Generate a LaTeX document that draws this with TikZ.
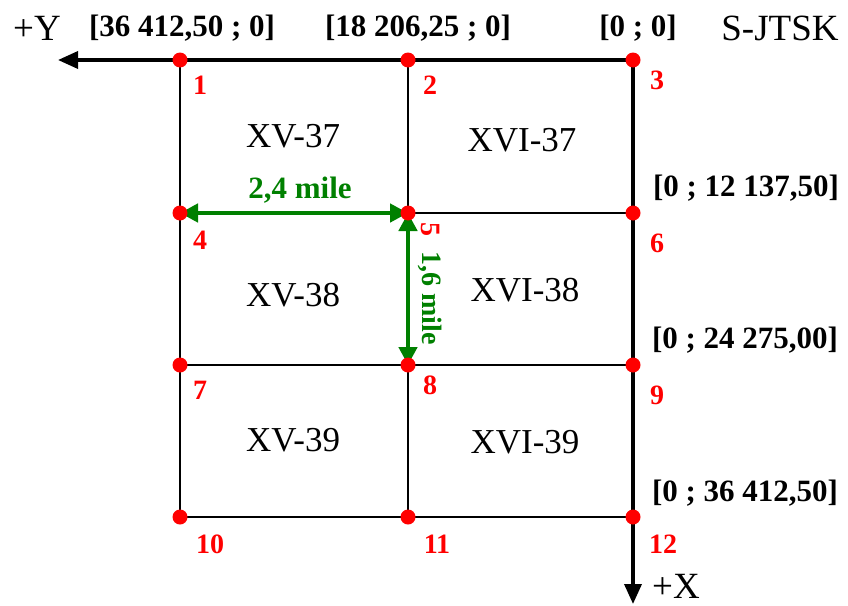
\documentclass[tikz,border=0pt]{standalone}
\usepackage{fontspec}
\setmainfont{Liberation Serif}
\usetikzlibrary{arrows.meta}
\definecolor{dgreen}{RGB}{0,128,0}
\begin{document}
\begin{tikzpicture}[x=1pt,y=-1pt,
  dot/.style={circle,fill=red,inner sep=0pt,minimum size=15pt},
  num/.style={text=red,font=\fontsize{28}{30}\selectfont\bfseries,inner sep=0pt},
  coord/.style={font=\fontsize{31}{34}\selectfont\bfseries,inner sep=0pt},
  cell/.style={font=\fontsize{35}{38}\selectfont,inner sep=0pt},
  plain/.style={font=\fontsize{37}{40}\selectfont,inner sep=0pt},
  grid/.style={line width=2pt},
  axis/.style={line width=3.5pt,-{Triangle[length=20pt,width=17pt]}},
  meas/.style={dgreen,line width=4.5pt,{Triangle[length=18pt,width=18pt]}-{Triangle[length=18pt,width=18pt]}},
  mlabel/.style={text=dgreen,font=\fontsize{31}{34}\selectfont\bfseries,inner sep=0pt}]
\useasboundingbox (0,0) rectangle (848,605);
% grid points
\coordinate (p1) at (180,60);
\coordinate (p2) at (408,60);
\coordinate (p3) at (633,60);
\coordinate (p4) at (180,213);
\coordinate (p5) at (408,213);
\coordinate (p6) at (633,213);
\coordinate (p7) at (180,365);
\coordinate (p8) at (408,365);
\coordinate (p9) at (633,365);
\coordinate (p10) at (180,517);
\coordinate (p11) at (408,517);
\coordinate (p12) at (633,517);
\coordinate (yend) at (58,60);
\coordinate (xend) at (633,604);
% grid lines
\draw[grid] (p1) -- (p10);
\draw[grid] (p2) -- (p11);
\draw[grid] (p4) -- (p6);
\draw[grid] (p7) -- (p9);
\draw[grid] (p10) -- (p12);
% axes
\draw[axis] (p3) -- (yend);
\draw[axis] (p3) -- (xend);
% measurements
\draw[meas] (p4) -- (p5);
\draw[meas] (p5) -- (p8);
% dots
\foreach \i in {1,...,12} \node[dot] (d\i) at (p\i) {};
% numbers
\node[num] (n1) at (200,85) {1};
\node[num] (n2) at (430,85) {2};
\node[num] (n3) at (657,80) {3};
\node[num] (n4) at (200,240) {4};
\node[num,rotate=-90] (n5) at (431,229) {5};
\node[num] (n6) at (657,243) {6};
\node[num] (n7) at (200,390) {7};
\node[num] (n8) at (430,385) {8};
\node[num] (n9) at (657,395) {9};
\node[num] (n10) at (210,544) {10};
\node[num] (n11) at (437,544) {11};
\node[num] (n12) at (663,544) {12};
% cell names
\node[cell] (c1) at (293,136) {XV-37};
\node[cell] (c2) at (522,140) {XVI-37};
\node[cell] (c3) at (293,295) {XV-38};
\node[cell] (c4) at (525,290) {XVI-38};
\node[cell] (c5) at (293,440) {XV-39};
\node[cell] (c6) at (525,442) {XVI-39};
% coordinates
\node[coord] (k1) at (182,28) {[36 412,50 ; 0]};
\node[coord] (k2) at (418,28) {[18 206,25 ; 0]};
\node[coord] (k3) at (638,28) {[0 ; 0]};
\node[coord] (k6) at (746,188) {[0 ; 12 137,50]};
\node[coord] (k9) at (745,340) {[0 ; 24 275,00]};
\node[coord] (k12) at (745,493) {[0 ; 36 412,50]};
% axis labels
\node[plain] (ly) at (37,28) {+Y};
\node[plain,anchor=west] (lx) at (652,586) {+X};
\node[plain] (sj) at (780,28) {S-JTSK};
% measurement labels
\node[mlabel] (m1) at (300,190) {2,4 mile};
\node[mlabel,rotate=-90,font=\fontsize{28}{30}\selectfont\bfseries] (m2) at (430,298) {1,6 mile};
\end{tikzpicture}
\end{document}
